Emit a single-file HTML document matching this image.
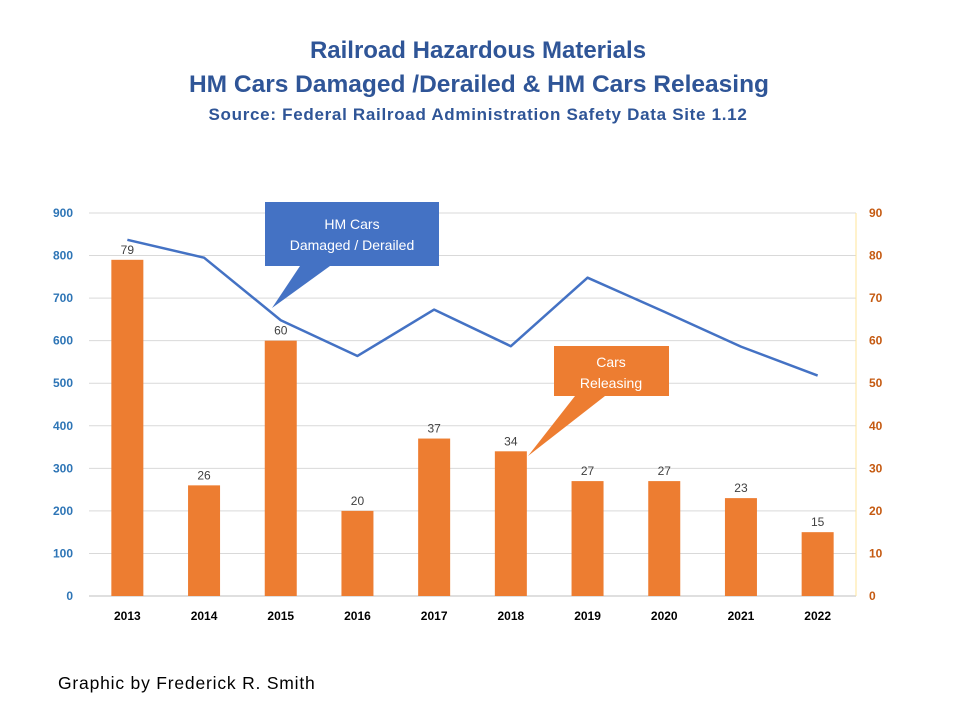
<!DOCTYPE html>
<html><head><meta charset="utf-8"><style>
body{margin:0;background:#fff;font-family:"Liberation Sans",sans-serif;}
svg{display:block}
</style></head><body>
<svg id="chart" width="960" height="720">
<text x="478" y="58" text-anchor="middle" font-size="24" font-weight="bold" fill="#2F5597">Railroad Hazardous Materials</text>
<text x="479" y="92" text-anchor="middle" font-size="24.5" font-weight="bold" fill="#2F5597">HM Cars Damaged /Derailed &amp; HM Cars Releasing</text>
<text x="478" y="120" text-anchor="middle" font-size="17" font-weight="bold" letter-spacing="0.7" fill="#2F5597">Source: Federal Railroad Administration  Safety Data Site 1.12</text>
<g id="grid"></g><g id="bars"></g><g id="line"></g><g id="labels"></g>
<g>
<polygon points="300,266 330,266 272,308" fill="#4472C4"/>
<rect x="265" y="202" width="174" height="64" fill="#4472C4"/>
<text x="352" y="229" text-anchor="middle" font-size="14" fill="#fff">HM Cars</text>
<text x="352" y="250" text-anchor="middle" font-size="14" fill="#fff">Damaged / Derailed</text>
</g>
<g>
<polygon points="575,396 605,396 528,456" fill="#ED7D31"/>
<rect x="554" y="346" width="115" height="50" fill="#ED7D31"/>
<text x="611" y="367" text-anchor="middle" font-size="14" fill="#fff">Cars</text>
<text x="611" y="388" text-anchor="middle" font-size="14" fill="#fff">Releasing</text>
</g>
<text x="58" y="689" font-size="17.5" letter-spacing="0.8" fill="#000">Graphic by Frederick R. Smith</text>
</svg>
<script>
const years=["2013","2014","2015","2016","2017","2018","2019","2020","2021","2022"];
const damaged=[837,795,648,564,673,587,748,668,586,518];
const releasing=[79,26,60,20,37,34,27,27,23,15];
const leftTicks=[0,100,200,300,400,500,600,700,800,900];
const rightTicks=[0,10,20,30,40,50,60,70,80,90];
const NS="http://www.w3.org/2000/svg";
const x0=89,x1=856,yb=596,yt=213;
const bw=(x1-x0)/years.length;
const xc=i=>x0+bw*(i+0.5);
const yL=v=>yb-(v/900)*(yb-yt);
const yR=v=>yb-(v/90)*(yb-yt);
function mk(tag,attrs,parent,txt){const e=document.createElementNS(NS,tag);for(const k in attrs)e.setAttribute(k,attrs[k]);if(txt!==undefined)e.textContent=txt;document.getElementById(parent).appendChild(e);return e;}
leftTicks.forEach(t=>{
 const g=mk('line',{x1:x0,x2:x1,y1:yL(t),y2:yL(t),stroke:t===0?'#bfbfbf':'#d9d9d9','stroke-width':1},'grid');
 
 
 const l=mk('text',{x:73,y:yL(t)+4,'text-anchor':'end','font-size':12,'font-weight':'bold',fill:'#2E75B6'},'labels',t);
 
 
});
rightTicks.forEach(t=>{
 const l=mk('text',{x:869,y:yR(t)+4,'font-size':12,'font-weight':'bold',fill:'#C55A11'},'labels',t);
 
 
});
const ax=mk('line',{x1:x1,x2:x1,y1:yt,y2:yb,stroke:'#FFE699','stroke-width':1},'grid');


years.forEach((y,i)=>{
 const l=mk('text',{x:xc(i),y:620,'text-anchor':'middle','font-size':12,'font-weight':'bold',fill:'#000'},'labels',y);
 
 
 const b=mk('rect',{x:xc(i)-16,y:yR(releasing[i]),width:32,height:yb-yR(releasing[i]),fill:'#ED7D31'},'bars');
 
 
 const v=mk('text',{x:xc(i),y:yR(releasing[i])-6,'text-anchor':'middle','font-size':12,fill:'#404040'},'labels',releasing[i]);
 
 
});
const pl=mk('polyline',{points:damaged.map((v,i)=>xc(i)+','+yL(v)).join(' '),fill:'none',stroke:'#4472C4','stroke-width':2.5,'stroke-linejoin':'round'},'line');


</script>
</body></html>
